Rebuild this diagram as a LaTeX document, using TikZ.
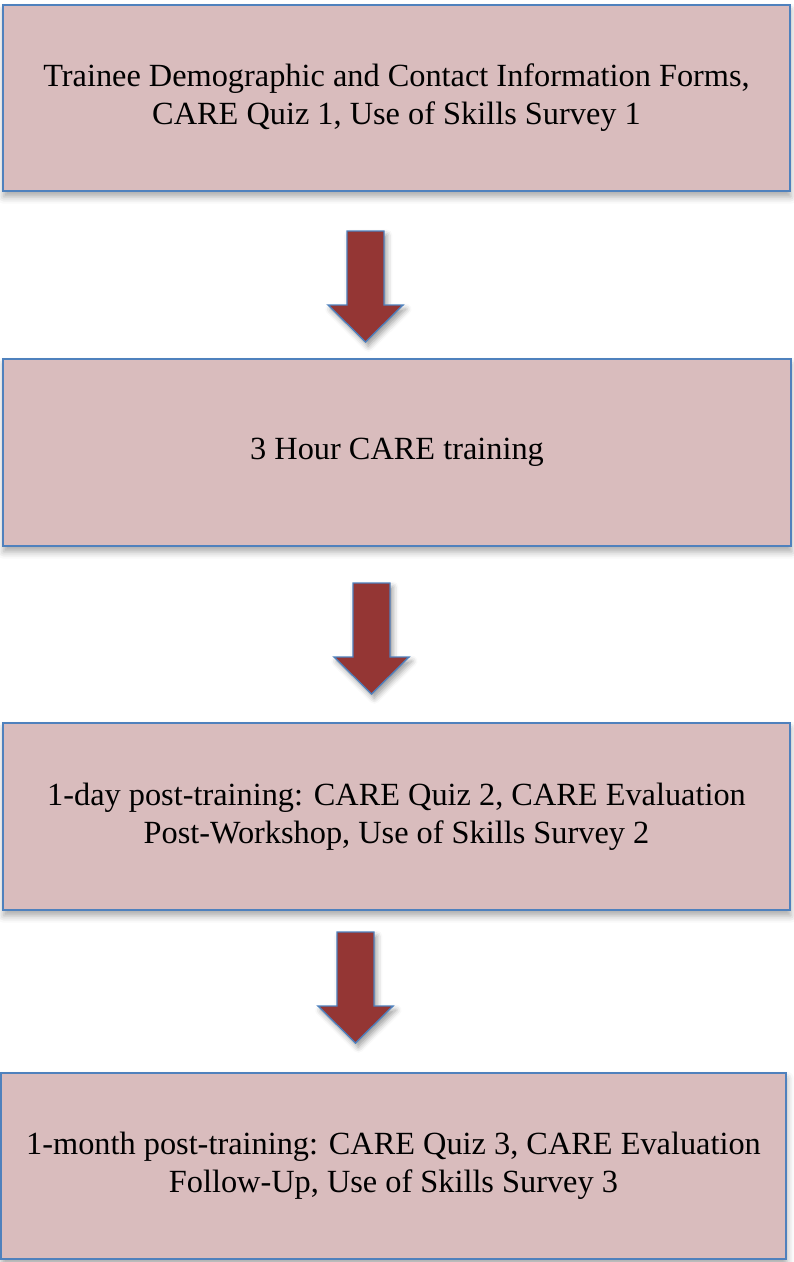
\documentclass[tikz,border=0pt]{standalone}
\usepackage{fontspec}
\setmainfont{Liberation Serif}
\usetikzlibrary{shadows.blur}

\definecolor{boxfill}{RGB}{217,188,189}
\definecolor{boxline}{RGB}{79,129,189}
\definecolor{arrowfill}{RGB}{148,54,52}

\begin{document}
\begin{tikzpicture}[stage/.style={rectangle,draw=boxline,fill=boxfill,line width=1.4pt,align=center,inner sep=0pt,
    font=\fontsize{23}{27}\selectfont,
    blur shadow={shadow xshift=0.5pt,shadow yshift=-4pt,shadow blur radius=5pt,shadow opacity=35}}]
\tikzstyle{down arrow} = [draw=boxline,fill=arrowfill,line width=1pt,line join=miter,
    blur shadow={shadow xshift=2pt,shadow yshift=-3pt,shadow blur radius=4pt,shadow opacity=40}]

\useasboundingbox (0,0) rectangle (19.825,-31.55);

\node[stage,minimum width=19.675cm,minimum height=4.65cm] (forms) at (9.9125,-2.45)
  {Trainee Demographic and Contact Information Forms,\\CARE Quiz 1, Use of Skills Survey 1};

\node[stage,minimum width=19.7cm,minimum height=4.675cm] (training) at (9.925,-11.3125)
  {3 Hour CARE training};

\node[stage,minimum width=19.675cm,minimum height=4.675cm] (day) at (9.9125,-20.4125)
  {1-day post-training: CARE Quiz 2, CARE Evaluation\\Post-Workshop, Use of Skills Survey 2};

\node[stage,minimum width=19.625cm,minimum height=4.65cm] (month) at (9.8375,-29.15)
  {1-month post-training: CARE Quiz 3, CARE Evaluation\\Follow-Up, Use of Skills Survey 3};

% block arrows between the stages
\foreach \x/\y in {9.1375/-5.775, 9.2875/-14.575, 8.8875/-23.3}
  \filldraw[down arrow] (\x-0.4625,\y) -- ++(0.925,0) -- ++(0,-1.85) -- ++(0.475,0)
    -- ++(-0.9375,-0.925) -- ++(-0.9375,0.925) -- ++(0.475,0) -- cycle;

\end{tikzpicture}
\end{document}
